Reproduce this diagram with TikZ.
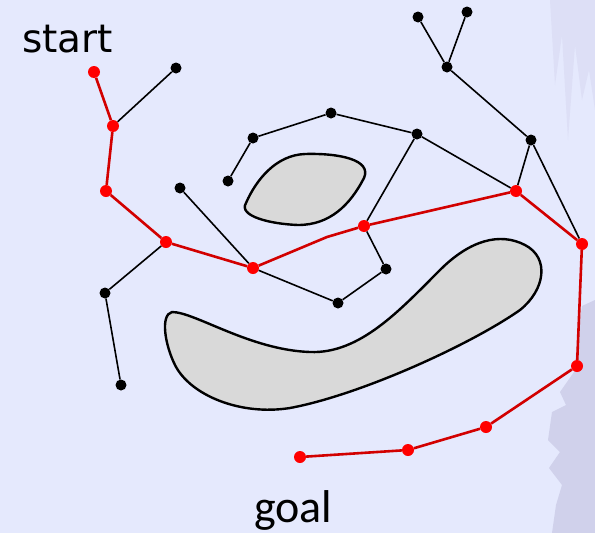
\documentclass[tikz,border=0pt]{standalone}
\usepackage{fontspec}
\newfontfamily\labelfont{DejaVu Sans}
\newfontfamily\goalfont{Carlito}
\definecolor{paper}{RGB}{229,233,253}
\definecolor{smear}{RGB}{208,209,235}
\definecolor{smearlight}{RGB}{221,223,246}
\definecolor{obstacle}{RGB}{217,217,217}
\definecolor{pathred}{RGB}{210,0,0}
\begin{document}
\begin{tikzpicture}[x=1pt,y=-1pt,
    tree/.style={circle,fill=black,inner sep=0pt,minimum size=11pt},
    route/.style={circle,fill=red,inner sep=0pt,minimum size=12pt},
    branch/.style={line width=1.6pt,black},
    way/.style={line width=2.6pt,pathred},
    wall/.style={line width=2.4pt,draw=black,fill=obstacle}]
        % Background
        \fill[paper] (0,0) rectangle (595,533);
        \useasboundingbox (0,0) rectangle (595,533);
        \fill[smearlight] (550,0) -- (595,0) -- (595,110) -- (589,70) -- (582,100)
            -- (575,45) -- (568,140) -- (562,35) -- (555,85) -- cycle;
        \fill[smear] (595,300) -- (582,306) -- (578,335) -- (574,372) -- (560,392)
            -- (566,405) -- (552,412) -- (548,440) -- (560,452) -- (549,468)
            -- (562,485) -- (556,505) -- (552,533) -- (595,533) -- cycle;

        % Obstacles
        \draw[wall] (246,203) .. controls (256,180) and (276,155) .. (305,154)
            .. controls (340,153) and (372,160) .. (364,178)
            .. controls (350,205) and (330,225) .. (298,225)
            .. controls (270,224) and (238,216) .. (246,203) -- cycle;
        \draw[wall] (172,312) .. controls (195,312) and (250,350) .. (310,352)
            .. controls (360,354) and (400,310) .. (440,270)
            .. controls (470,240) and (500,232) .. (525,245)
            .. controls (550,258) and (545,290) .. (520,310)
            .. controls (470,345) and (360,395) .. (290,408)
            .. controls (240,416) and (190,395) .. (175,365)
            .. controls (165,345) and (160,315) .. (172,312) -- cycle;

        % Labels
        \node[anchor=base west,inner sep=0pt,font=\labelfont\fontsize{39}{41}\selectfont] (start) at (22,52) {start};
        \node[anchor=base west,inner sep=0pt,font=\goalfont\fontsize{46}{48}\selectfont] (goal) at (254,522) {goal};

        % Define nodes
        \node[route] (P1) at (94,72) {};
        \node[route] (P2) at (113,126) {};
        \node[route] (P3) at (106,191) {};
        \node[route] (P4) at (166,242) {};
        \node[route] (P5) at (253,268) {};
        \coordinate (K) at (327,237);
        \node[route] (P6) at (364,226) {};
        \node[route] (P7) at (516,191) {};
        \node[route] (P8) at (582,244) {};
        \node[route] (P9) at (577,366) {};
        \node[route] (P10) at (486,427) {};
        \node[route] (P11) at (408,450) {};
        \node[route] (P12) at (300,457) {};

        \node[tree] (T1) at (176,68) {};
        \node[tree] (T2) at (105,293) {};
        \node[tree] (T3) at (121,385) {};
        \node[tree] (T4) at (180,188) {};
        \node[tree] (T5) at (338,303) {};
        \node[tree] (T6) at (386,269) {};
        \node[tree] (T7) at (228,181) {};
        \node[tree] (T8) at (253,138) {};
        \node[tree] (T9) at (331,113) {};
        \node[tree] (T10) at (417,134) {};
        \node[tree] (T11) at (447,67) {};
        \node[tree] (T12) at (418,17) {};
        \node[tree] (T13) at (467,12) {};
        \node[tree] (T14) at (531,140) {};

        % Draw tree edges
        \draw[branch] (P2) -- (T1);
        \draw[branch] (P4) -- (T2);
        \draw[branch] (T2) -- (T3);
        \draw[branch] (T4) -- (P5);
        \draw[branch] (P5) -- (T5);
        \draw[branch] (T5) -- (T6);
        \draw[branch] (T6) -- (P6);
        \draw[branch] (T7) -- (T8);
        \draw[branch] (T8) -- (T9);
        \draw[branch] (T9) -- (T10);
        \draw[branch] (T10) -- (P6);
        \draw[branch] (T10) -- (P7);
        \draw[branch] (T11) -- (T12);
        \draw[branch] (T11) -- (T13);
        \draw[branch] (T11) -- (T14);
        \draw[branch] (T14) -- (P7);
        \draw[branch] (T14) -- (P8);

        % Draw the path from start to goal
        \draw[way] (P1) -- (P2) -- (P3) -- (P4) -- (P5) -- (K) -- (P6) -- (P7)
            -- (P8) -- (P9) -- (P10) -- (P11) -- (P12);
    \end{tikzpicture}
\end{document}
